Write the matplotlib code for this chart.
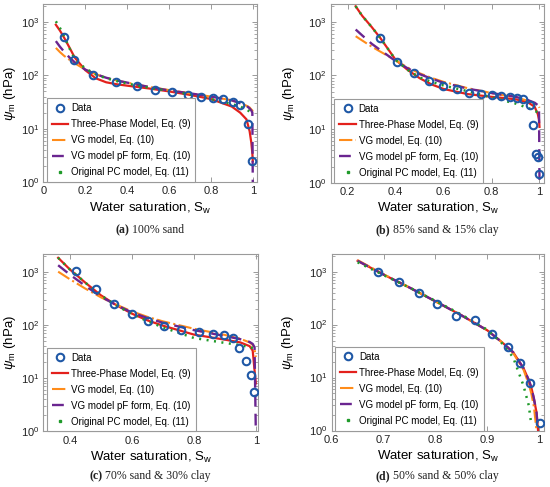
import numpy as np
import matplotlib
matplotlib.use('Agg')
import matplotlib.pyplot as plt
from matplotlib.lines import Line2D
from matplotlib.ticker import FixedLocator, LogLocator, NullFormatter
from matplotlib.offsetbox import TextArea, HPacker, AnnotationBbox

plt.rcParams.update({
    'font.family': ['Liberation Sans', 'DejaVu Sans'],
    'mathtext.fontset': 'custom',
    'mathtext.rm': 'Liberation Sans',
    'mathtext.it': 'Liberation Sans:italic',
    'mathtext.bf': 'Liberation Sans:bold',
})

# ---- (a) 100% sand ----
A_SW = [0.099, 0.145, 0.238, 0.346, 0.445, 0.535, 0.616, 0.69, 0.754, 0.81, 0.86, 0.905, 0.94, 0.975, 0.995]
A_PSI = [525, 189, 102, 76, 62, 54, 48, 43, 40, 38, 35.5, 32, 28, 12.4, 2.5]
A_FIT_SW = [0.06, 0.08, 0.1, 0.125, 0.15, 0.2, 0.25, 0.3, 0.35, 0.4, 0.5, 0.6, 0.7, 0.8, 0.9,
            0.94, 0.97, 0.985, 0.993, 0.998, 1.0]
A_TP = [880, 680, 500, 330, 215, 125, 88, 74, 68, 64, 57, 50, 43, 36, 26, 20, 15, 9, 5.5, 3.5, 2.5]
A_VG = [325, 270, 230, 195, 168, 128, 105, 90, 80, 73, 61, 53, 46, 40, 34, 30, 27, 25, 23, 22, 21]
A_PF = [435, 340, 275, 215, 175, 128, 105, 90, 80, 73, 61, 52, 46, 40, 34, 30, 27, 24, 22, 20, 1]
A_PC = [1020, 760, 530, 320, 200, 135, 104, 88, 78, 70, 59, 51, 44, 36, 29, 26, 23, 21, 19.5, 18.5, 18]

# ---- (b) 85% sand & 15% clay ----
B_SW = [0.335, 0.407, 0.476, 0.539, 0.597, 0.654, 0.705, 0.754, 0.803, 0.84, 0.876, 0.907,
        0.932, 0.96, 0.971, 0.986, 0.995, 1.0]
B_PSI = [506, 182, 109, 80, 64, 55, 48, 45, 43, 42, 40, 38, 37, 28, 11.7, 3.5, 3.0, 1.45]
B_FIT_SW = [0.233, 0.26, 0.3, 0.335, 0.4, 0.45, 0.5, 0.55, 0.6, 0.7, 0.8, 0.9, 0.95, 0.98,
            0.993, 0.998, 1.0]
B_TP = [1950, 1300, 800, 506, 195, 127, 89, 68, 56, 45, 40, 36, 32, 26, 19, 15, 11]
B_VG = [540, 450, 345, 280, 192, 140, 110, 90, 76, 58, 47, 39, 34, 30, 27, 26, 25]
B_PF = [720, 560, 390, 300, 185, 136, 106, 87, 73, 57, 47, 40, 35, 31, 28, 26, 1]
B_PC = [1950, 1300, 800, 506, 195, 127, 92, 76, 65, 51, 39, 30, 25, 22, 20.5, 19.5, 19]

# ---- (c) 70% sand & 30% clay ----
C_SW = [0.419, 0.484, 0.543, 0.6, 0.651, 0.703, 0.76, 0.817, 0.862, 0.898, 0.927, 0.946,
        0.968, 0.983, 0.994]
C_PSI = [1050, 480, 249, 163, 119, 94, 80, 74, 69, 64, 58, 37, 20.7, 11.3, 5.4]
C_FIT_SW = [0.362, 0.4, 0.45, 0.5, 0.55, 0.6, 0.65, 0.7, 0.8, 0.9, 0.95, 0.98, 0.99, 0.996, 1.0]
C_TP = [1820, 1100, 620, 360, 235, 163, 122, 97, 66, 53, 47, 40, 33, 14, 8]
C_VG = [1000, 720, 480, 330, 240, 180, 142, 117, 85, 65, 55, 47, 42, 35, 25]
C_PF = [1320, 880, 540, 340, 235, 172, 135, 110, 80, 62, 54, 48, 44, 38, 1]
C_PC = [1820, 1100, 620, 360, 232, 160, 118, 90, 57, 46, 42, 38, 37, 36.5, 36]

# ---- (d) 50% sand & 50% clay ----
D_SW = [0.69, 0.73, 0.768, 0.804, 0.84, 0.876, 0.909, 0.94, 0.963, 0.982, 1.002]
D_PSI = [975, 640, 395, 245, 147, 123, 67, 37, 19, 8, 1.4]
D_FIT_SW = [0.65, 0.7, 0.75, 0.8, 0.85, 0.9, 0.93, 0.95, 0.97, 0.98, 0.985, 0.99, 0.995, 0.998]
D_TP = [1600, 880, 500, 275, 150, 78, 45, 30, 15, 9, 6.5, 4, 2.2, 1]
D_VG = [1650, 890, 500, 275, 150, 78, 45, 29, 14, 7.5, 5, 2.8, 1.0, np.nan]
D_PF = [1600, 880, 500, 275, 150, 78, 45, 30, 15, 9, 6.5, 4, 2.2, 1]
D_PC = [1500, 860, 500, 280, 155, 80, 43, 24, 7, 3, 1.3, np.nan, np.nan, np.nan]

LABELS = ['Data', 'Three-Phase Model, Eq. (9)', 'VG model, Eq. (10)',
          'VG model pF form, Eq. (10)', 'Original PC model, Eq. (11)']
CAPTIONS = [('(a)', '100% sand'), ('(b)', '85% sand & 15% clay'),
            ('(c)', '70% sand & 30% clay'), ('(d)', '50% sand & 50% clay')]

GREY = '#9a9a9a'
GREEN = '#1f9a2a'


def panel(ax, sw, psi, fsw, tp, vg, pf, pc, xlim, xticks):
    l1, = ax.plot(fsw, tp, '-', color='#e3211c', lw=1.6, zorder=3)
    l2, = ax.plot(fsw, vg, '-.', color='#ff8c1a', lw=1.5, zorder=3)
    l3, = ax.plot(fsw, pf, color='#6a2590', lw=1.7, dashes=(5, 3), zorder=3)
    ax.plot(fsw, pc, color=GREEN, lw=1.8, dashes=(0.8, 2.2), zorder=4)
    l0, = ax.plot(sw, psi, 'o', mfc='none', mec='#1f58a6', mew=1.5, ms=5.4, ls='none', zorder=5)
    # legend shows the dotted fit as a single dot
    l4 = Line2D([], [], ls='none', marker='s', ms=1.8, color=GREEN)
    ax.set_yscale('log')
    ax.set_ylim(1, 2150)
    ax.set_xlim(*xlim)
    ax.xaxis.set_major_locator(FixedLocator(xticks))
    ax.set_xticklabels(['%g' % t for t in xticks])
    ax.yaxis.set_major_locator(LogLocator(base=10, numticks=10))
    ax.yaxis.set_minor_locator(LogLocator(base=10, subs=np.arange(2, 10), numticks=10))
    ax.yaxis.set_minor_formatter(NullFormatter())
    ax.tick_params(which='both', direction='in', top=True, right=True, color=GREY,
                   labelsize=8, labelcolor='#222222', pad=3)
    ax.tick_params(which='major', length=3.5, width=0.7)
    ax.tick_params(which='minor', length=2, width=0.6)
    for sp in ax.spines.values():
        sp.set_color(GREY)
        sp.set_linewidth(0.8)
    ax.set_xlabel('Water saturation, S$_{\\mathrm{w}}$', fontsize=9.5)
    ax.set_ylabel('$\\psi_{\\mathrm{m}}$ (hPa)', fontsize=9.5)
    ax.xaxis.label.set_va('center')
    ax.yaxis.label.set_va('center')
    leg = ax.legend([l0, l1, l2, l3, l4], LABELS, loc='lower left',
                    bbox_to_anchor=(0.016, 0.0), borderaxespad=0, fontsize=7,
                    fancybox=False, framealpha=1, edgecolor=GREY, borderpad=0.5,
                    handlelength=1.7, handletextpad=0.3, labelspacing=0.62)
    leg.get_frame().set_linewidth(0.8)
    return ax


def caption(fig, x, y, tag, text):
    props = dict(family='Liberation Serif', size=8.5, color='#222222')
    box = HPacker(children=[TextArea(tag, textprops=dict(props, weight='bold')),
                            TextArea('\u00a0' + text, textprops=props)],
                  align='baseline', pad=0, sep=0)
    fig.add_artist(AnnotationBbox(box, (x, y), xycoords='figure fraction',
                                  frameon=False, box_alignment=(0.5, 0.5)))


fig = plt.figure(figsize=(5.5, 4.87), dpi=100)
ax_a = fig.add_axes([0.0787, 0.6257, 0.3885, 0.3661])
ax_b = fig.add_axes([0.6018, 0.6248, 0.3878, 0.3669])
ax_c = fig.add_axes([0.0787, 0.1140, 0.3909, 0.3645])
ax_d = fig.add_axes([0.6031, 0.1160, 0.3865, 0.3624])

panel(ax_a, A_SW, A_PSI, A_FIT_SW, A_TP, A_VG, A_PF, A_PC, (0, 1.02), [0, 0.2, 0.4, 0.6, 0.8, 1])
panel(ax_b, B_SW, B_PSI, B_FIT_SW, B_TP, B_VG, B_PF, B_PC, (0.13, 1.02), [0.2, 0.4, 0.6, 0.8, 1])
panel(ax_c, C_SW, C_PSI, C_FIT_SW, C_TP, C_VG, C_PF, C_PC, (0.314, 1.008), [0.4, 0.6, 0.8, 1])
panel(ax_d, D_SW, D_PSI, D_FIT_SW, D_TP, D_VG, D_PF, D_PC, (0.6, 1.01), [0.6, 0.7, 0.8, 0.9, 1])

for ax, xoff in [(ax_a, -0.156), (ax_b, -0.195), (ax_c, -0.155), (ax_d, -0.205)]:
    ax.yaxis.set_label_coords(xoff, 0.5)
    ax.xaxis.set_label_coords(0.5, -0.145)

caption(fig, 150 / 550, 1 - 230 / 487, *CAPTIONS[0])
caption(fig, 437 / 550, 1 - 230 / 487, *CAPTIONS[1])
caption(fig, 150 / 550, 1 - 476 / 487, *CAPTIONS[2])
caption(fig, 437 / 550, 1 - 476 / 487, *CAPTIONS[3])

fig.savefig('out.png', dpi=100)
